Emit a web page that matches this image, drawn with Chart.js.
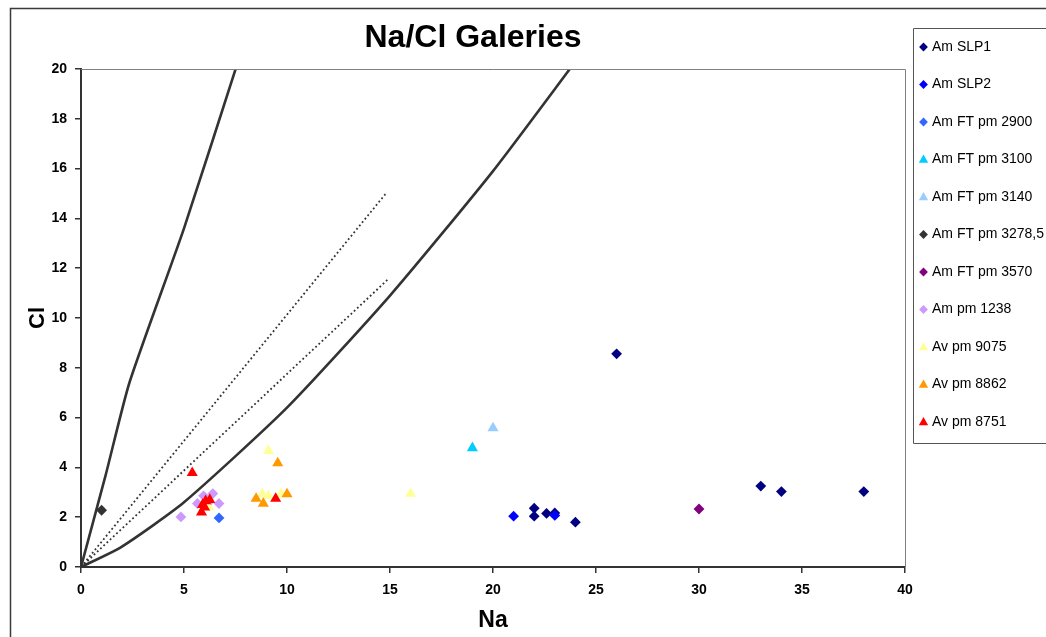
<!DOCTYPE html>
<html>
<head>
<meta charset="utf-8">
<script src="https://cdn.jsdelivr.net/npm/chart.js@4.4.1/dist/chart.umd.min.js"></script>
<style>
  html, body { margin: 0; padding: 0; background: #fff; }
  #wrap { width: 1046px; height: 637px; }
</style>
</head>
<body>
<div id="wrap"><canvas id="naCl" width="1046" height="637"></canvas></div>
<script>
// measured points, Na (x) / Cl (y)
var amSLP1 = [[22, 2.36], [22, 2.04], [22.6, 2.15], [23, 2.17], [24, 1.8], [26, 8.56], [33, 3.25], [34, 3.03], [38, 3.03]];
var amSLP2 = [[21, 2.04], [23, 2.07]];
var amFT2900 = [[6.7, 1.97]];
var amFT3100 = [[19, 4.78]];
var amFT3140 = [[20, 5.58]];
var amFT3278 = [[1, 2.28]];
var amFT3570 = [[30, 2.33]];
var amPm1238 = [[4.85, 2.01], [5.65, 2.55], [5.95, 2.86], [6.4, 2.95], [6.7, 2.55], [6.2, 2.6]];
var avPm9075 = [[9.1, 4.67], [8.8, 2.93], [9.1, 2.86], [9.7, 2.93], [16, 2.95], [6.2, 2.4]];
var avPm8862 = [[9.55, 4.17], [8.5, 2.75], [8.85, 2.55], [10, 2.93]];
var avPm8751 = [[5.4, 3.78], [9.45, 2.75], [5.85, 2.2], [5.9, 2.5], [6.05, 2.65], [6.25, 2.7], [6.0, 2.4]];

// reference lines
var steepLine = [[0, 0], [1.2, 3.7], [2.35, 7.4], [5, 13.6], [7.7, 20.5]];
var lowerCurve = [[0, 0], [1.95, 0.8], [5, 2.6], [10, 6.4], [15, 10.9], [20, 15.9], [24, 20.3]];
var upperDotted = [[0, 0], [14.8, 15]];
var lowerDotted = [[0, 0], [14.9, 11.55]];

var seriesNames = ['Am SLP1', 'Am SLP2', 'Am FT pm 2900', 'Am FT pm 3100', 'Am FT pm 3140', 'Am FT pm 3278,5',
  'Am FT pm 3570', 'Am pm 1238', 'Av pm 9075', 'Av pm 8862', 'Av pm 8751'];
var seriesData = [amSLP1, amSLP2, amFT2900, amFT3100, amFT3140, amFT3278, amFT3570, amPm1238, avPm9075, avPm8862, avPm8751];
var seriesColors = ['#000080', '#0000FF', '#3366FF', '#00CCFF', '#99CCFF', '#333333', '#800080', '#CC99FF', '#FFFF99', '#FF9900', '#FF0000'];
var seriesShapes = ['rectRot', 'rectRot', 'rectRot', 'triangle', 'triangle', 'rectRot', 'rectRot', 'rectRot', 'triangle', 'triangle', 'triangle'];

var xTicks = { min: 0, max: 40, step: 5 };
var yTicks = { min: 0, max: 20, step: 2 };

function toXY(arr) {
  return arr.map(function (p) { return { x: p[0], y: p[1] }; });
}

var FONT = '"Liberation Sans", Arial, sans-serif';

var datasets = seriesNames.map(function (name, i) {
  var tri = seriesShapes[i] === 'triangle';
  return {
    label: name,
    data: toXY(seriesData[i]),
    showLine: false,
    pointStyle: seriesShapes[i],
    pointRadius: tri ? 6.4 : 5.4,
    pointBackgroundColor: seriesColors[i],
    pointBorderColor: seriesColors[i],
    pointBorderWidth: 0,
    order: 11 - i,
    inLegend: true
  };
});

function refLine(data, dotted) {
  return {
    label: '',
    data: toXY(data),
    showLine: true,
    pointRadius: 0,
    borderColor: '#333333',
    borderWidth: dotted ? 1.8 : 2.6,
    borderDash: dotted ? [1.8, 2.6] : [],
    tension: dotted ? 0 : 0.2,
    fill: false,
    order: 20
  };
}
datasets.push(refLine(steepLine, false));
datasets.push(refLine(lowerCurve, false));
datasets.push(refLine(upperDotted, true));
datasets.push(refLine(lowerDotted, true));

var framePlugin = {
  id: 'frame',
  afterLayout: function (chart) {
    // centre the title on the whole chart frame
    if (chart.titleBlock) {
      chart.titleBlock.left = 10;
      chart.titleBlock.right = 936;
    }
  },
  afterDraw: function (chart) {
    var ctx = chart.ctx;
    var a = chart.chartArea;
    ctx.save();
    // plot area top/right border
    ctx.strokeStyle = '#808080';
    ctx.lineWidth = 1;
    ctx.beginPath();
    ctx.moveTo(a.left, a.top + 0.5);
    ctx.lineTo(a.right + 0.5, a.top + 0.5);
    ctx.lineTo(a.right + 0.5, a.bottom);
    ctx.stroke();
    // outer chart frame
    ctx.strokeStyle = '#3a3a3a';
    ctx.lineWidth = 1.5;
    ctx.beginPath();
    ctx.moveTo(1046, 8.5);
    ctx.lineTo(10.5, 8.5);
    ctx.lineTo(10.5, 637);
    ctx.stroke();
    // legend box
    ctx.strokeStyle = '#555555';
    ctx.lineWidth = 1;
    ctx.beginPath();
    ctx.moveTo(1046, 28.5);
    ctx.lineTo(913.5, 28.5);
    ctx.lineTo(913.5, 443.5);
    ctx.lineTo(1046, 443.5);
    ctx.stroke();
    // legend entries
    ctx.font = '14px ' + FONT;
    ctx.textBaseline = 'middle';
    ctx.textAlign = 'left';
    var items = chart.data.datasets.filter(function (d) { return d.inLegend; });
    items.forEach(function (d, i) {
      var y = 47 + i * 37.5;
      var tri = d.pointStyle === 'triangle';
      ctx.fillStyle = d.pointBackgroundColor;
      Chart.helpers.drawPoint(ctx, {
        pointStyle: d.pointStyle,
        rotation: 0,
        radius: tri ? 5.4 : 4.4,
        borderWidth: 0
      }, 923.5, tri ? y + 0.5 : y);
      ctx.fillStyle = '#000';
      ctx.fillText(d.label, 932, y);
    });
    ctx.restore();
  }
};

new Chart(document.getElementById('naCl').getContext('2d'), {
  type: 'scatter',
  data: { datasets: datasets },
  plugins: [framePlugin],
  options: {
    responsive: false,
    animation: false,
    events: [],
    layout: { padding: { left: 0, right: 141, top: 0, bottom: 0 } },
    plugins: {
      legend: { display: false },
      tooltip: { enabled: false },
      title: {
        display: true,
        text: 'Na/Cl Galeries',
        color: '#000',
        font: { family: FONT, size: 32, weight: 'bold', lineHeight: 1.2 },
        padding: { top: 19, bottom: 11.6 }
      }
    },
    scales: {
      x: {
        type: 'linear',
        min: xTicks.min,
        max: xTicks.max,
        afterFit: function (s) { s.height = 70; },
        ticks: {
          stepSize: xTicks.step,
          color: '#000',
          padding: 9,
          font: { family: FONT, size: 14, weight: 'bold' }
        },
        grid: { drawOnChartArea: false, drawTicks: true, tickLength: 6, color: '#333333', lineWidth: 1.5 },
        border: { display: true, color: '#333333', width: 2 },
        title: {
          display: true,
          text: 'Na',
          color: '#000',
          font: { family: FONT, size: 23, weight: 'bold', lineHeight: 1.2 },
          padding: { top: 0, bottom: 3 }
        }
      },
      y: {
        type: 'linear',
        min: yTicks.min,
        max: yTicks.max,
        afterFit: function (s) { s.width = 81; },
        ticks: {
          stepSize: yTicks.step,
          color: '#000',
          padding: 8,
          font: { family: FONT, size: 14, weight: 'bold' }
        },
        grid: { drawOnChartArea: false, drawTicks: true, tickLength: 6, color: '#333333', lineWidth: 1.5 },
        border: { display: true, color: '#333333', width: 2 },
        title: {
          display: true,
          text: 'Cl',
          color: '#000',
          font: { family: FONT, size: 22, weight: 'bold', lineHeight: 1.2 },
          padding: { top: 25, bottom: 0 }
        }
      }
    }
  }
});
</script>
</body>
</html>
